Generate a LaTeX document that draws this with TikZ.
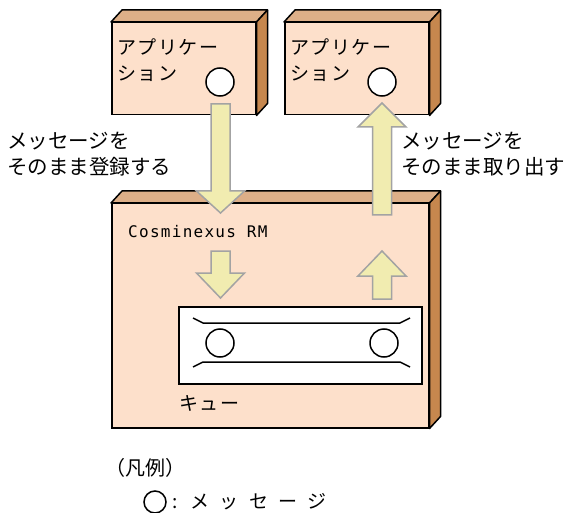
\documentclass[tikz,border=0pt]{standalone}
\usepackage{fontspec}
\setmainfont{Noto Sans CJK JP}
\newfontfamily\rmmono{DejaVu Sans Mono}[LetterSpace=8]
\usetikzlibrary{positioning}
\definecolor{face}{HTML}{FDE0CB}
\definecolor{lid}{HTML}{DDAF88}
\definecolor{side}{HTML}{C6874E}
\definecolor{fat}{HTML}{F1ECB0}
\definecolor{fatedge}{HTML}{A3A3A3}

\begin{document}
\begin{tikzpicture}[x=1pt,y=-1pt,
  box/.style={draw,line width=1.5pt,fill=face,anchor=north west,inner sep=0pt},
  depth/.style={draw,line width=1.5pt,line join=round},
  msg/.style={circle,draw,fill=white,line width=1.5pt,inner sep=0pt,minimum size=28pt},
  fatarrow/.style={fill=fat,draw=fatedge,line width=1.5pt},
  lab/.style={anchor=west,align=left,inner sep=0pt},
  boxlab/.style={lab,font=\addfontfeature{LetterSpace=8}\fontsize{19}{26}\selectfont},
  sidelab/.style={lab,font=\fontsize{20.5}{26}\selectfont}]
\useasboundingbox (0,0) rectangle (570,513);
% three boxes
\node[box,minimum width=144pt,minimum height=92pt] (app1) at (111,22) {};
\node[box,minimum width=144pt,minimum height=92pt] (app2) at (284,22) {};
\node[box,minimum width=317pt,minimum height=224pt] (rm) at (111,203) {};
\foreach \b in {app1,app2,rm} {
  \filldraw[depth,fill=lid] (\b.north west) -- ++(11,-12)
    -- ([shift={(11,-12)}]\b.north east) -- (\b.north east) -- cycle;
  \filldraw[depth,fill=side] (\b.north east) -- ++(11,-12)
    -- ([shift={(11,-12)}]\b.south east) -- (\b.south east) -- cycle;
}
\node[boxlab] (app1lab) at (117,60.5) {アプリケー\\ション};
\node[boxlab] (app2lab) at (290,60.5) {アプリケー\\ション};
\node[msg] (msg1) at (220,82) {};
\node[msg] (msg2) at (382,82) {};
% queue
\node[box,fill=white,minimum width=243pt,minimum height=77pt] (queue) at (178,306) {};
\draw[line width=1.5pt] (193,318) -- (203,323) -- (400,323) -- (410,318);
\draw[line width=1.5pt] (193,367) -- (203,362) -- (400,362) -- (410,367);
\node[msg] (qmsg1) at (220,343) {};
\node[msg] (qmsg2) at (384,343) {};
% fat arrows: x / tail / head base / tip
\foreach \x/\t/\b/\p in {220.5/104/191/213, 382/215/127/103,
                         220.5/251/273/298, 382/299/276/251}
  \filldraw[fatarrow] (\x-9.5,\t) -- (\x-9.5,\b) -- (\x-24,\b) -- (\x,\p)
    -- (\x+24,\b) -- (\x+9.5,\b) -- (\x+9.5,\t) -- cycle;
\node[lab,font=\rmmono\fontsize{16}{20}\selectfont] (rmlab) at (128,232) {Cosminexus RM};
\node[boxlab] (qlab) at (179,403) {キュー};
\node[sidelab] (putlab) at (7,154) {メッセージを\\そのまま登録する};
\node[sidelab] (getlab) at (401,154) {メッセージを\\そのまま取り出す};
% legend
\node[lab,font=\fontsize{20}{20}\selectfont] (legend) at (105,468) {（凡例）};
\node[msg,minimum size=22pt] (legmsg) at (155,502) {};
\node[lab,right=6pt of legmsg,font=\fontsize{19}{20}\selectfont]
  (legtext) {:\hspace{12pt}\addfontfeature{LetterSpace=55}メッセージ};
\end{tikzpicture}
\end{document}
